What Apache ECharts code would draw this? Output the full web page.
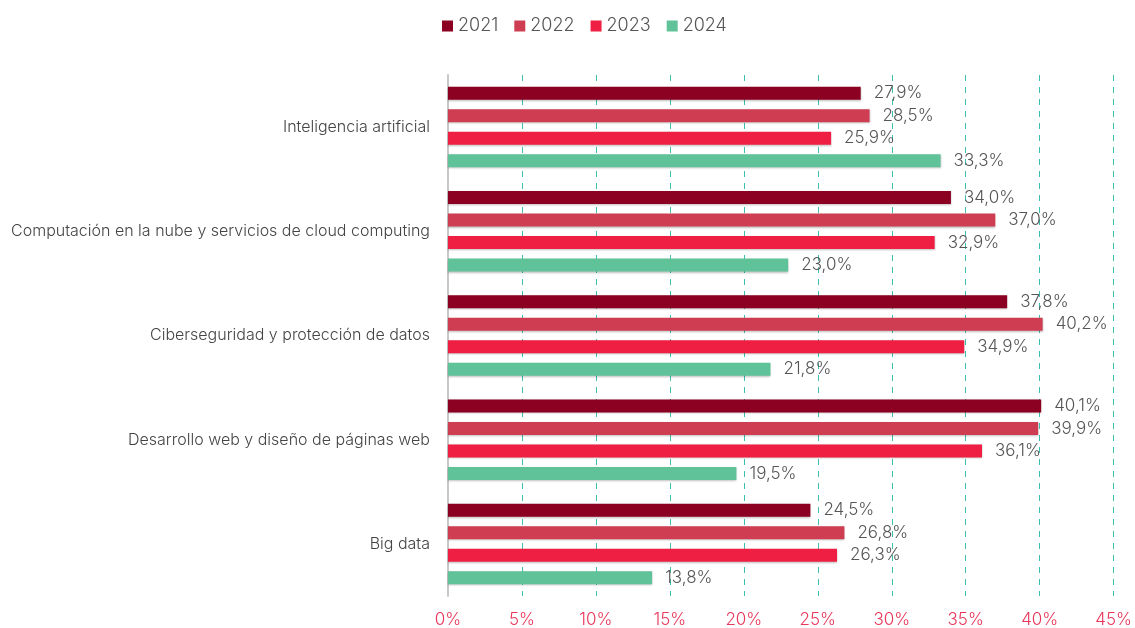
<!DOCTYPE html>
<html><head><meta charset="utf-8">
<script src="https://cdn.jsdelivr.net/npm/echarts@6/dist/echarts.min.js"></script>
<style>html,body{margin:0;padding:0;background:#fff}#c{width:1135px;height:628px}</style>
</head><body><div id="c"></div>
<script>
const categories = ['Inteligencia artificial','Computación en la nube y servicios de cloud computing','Ciberseguridad y protección de datos','Desarrollo web y diseño de páginas web','Big data'];
const seriesNames = ['2021','2022','2023','2024'];
const v2021 = [27.9, 34.0, 37.8, 40.1, 24.5];
const v2022 = [28.5, 37.0, 40.2, 39.9, 26.8];
const v2023 = [25.9, 32.9, 34.9, 36.1, 26.3];
const v2024 = [33.3, 23.0, 21.8, 19.5, 13.8];
const colors = ['#8C0022','#CF3D52','#EE1F43','#60C298'];
const values = [v2021, v2022, v2023, v2024];
const font = 'Inter, "Noto Sans", sans-serif';
const chart = echarts.init(document.getElementById('c'));
chart.setOption({
  animation:false,
  legend:{top:12,left:437,itemWidth:11,itemHeight:11,itemGap:16,icon:'rect',
    textStyle:{color:'#555',fontSize:18,fontFamily:font,fontWeight:300}},
  grid:{left:448,right:19,top:75,bottom:31},
  xAxis:{type:'value',min:0,max:45,interval:5,
    axisLabel:{formatter:'{value}%',color:'#E8375A',fontSize:17,fontFamily:font,margin:15,fontWeight:300},
    axisLine:{show:false},axisTick:{show:false},
    splitLine:{show:true,lineStyle:{color:'#3DBFB0',type:[6,6],width:1}}},
  yAxis:{type:'category',data:categories,inverse:true,
    axisLine:{show:true,lineStyle:{color:'#C8C8C8',width:2}},axisTick:{show:false},
    axisLabel:{color:'#444',fontSize:16,fontFamily:font,margin:18,fontWeight:300}},
  series: seriesNames.map((n,i)=>({
    name:n,type:'bar',data:values[i],barWidth:13,barGap:'73%',
    itemStyle:{color:colors[i],shadowColor:'rgba(0,0,0,0.25)',shadowBlur:2,shadowOffsetY:1},
    label:{show:true,position:'right',distance:13,color:'#555',fontSize:17,fontFamily:font,fontWeight:300,
      formatter:p=>p.value.toFixed(1).replace('.',',')+'%'}
  }))
});
</script></body></html>
